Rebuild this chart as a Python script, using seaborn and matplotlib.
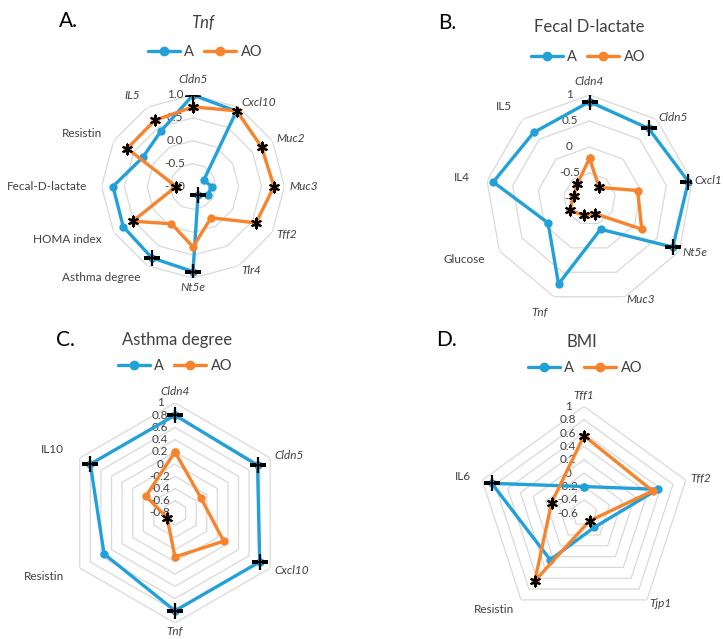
import numpy as np
import pandas as pd
import matplotlib
matplotlib.use("Agg")
import matplotlib.pyplot as plt
import matplotlib.transforms as mtransforms
from matplotlib.lines import Line2D
import seaborn as sns

sns.set_theme(style="white")
plt.rcParams["font.family"] = ["Lato", "DejaVu Sans"]

BLUE = "#22a0d8"
ORANGE = "#f7832d"
TEXT = "#404040"
GRID = "#d9d9d9"
W, H = 723, 639

# ---- Panel A: correlations with Tnf ----
a_cats = ["Cldn5", "Cxcl10", "Muc2", "Muc3", "Tff2", "Tlr4", "Nt5e",
          "Asthma degree", "HOMA index", "Fecal-D-lactate", "Resistin", "IL5"]
a_italic = [True, True, True, True, True, True, True, False, False, False, False, True]
a_A = [1.00, 0.90, -0.73, -0.59, -0.63, -0.78, 0.86, 0.80, 0.76, 0.75, 0.27, 0.40]
a_AO = [0.74, 0.91, 0.73, 0.77, 0.59, -0.21, 0.32, -0.06, 0.52, -0.63, 0.66, 0.67]
a_sig_A = ["+", "", "", "", "", "+", "+", "+", "", "", "", ""]
a_sig_AO = ["*", "*", "*", "*", "*", "", "", "", "*", "*", "*", "*"]
a_ticks = [-1.0, -0.5, 0.0, 0.5, 1.0]
a_tick_labels = ["-1.0", "-0.5", "0.0", "0.5", "1.0"]

# ---- Panel B: correlations with fecal D-lactate ----
b_cats = ["Cldn4", "Cldn5", "Cxcl1", "Nt5e", "Muc3", "Tnf", "Glucose", "IL4", "IL5"]
b_italic = [True, True, True, True, True, True, False, False, False]
b_A = [0.87, 0.77, 0.93, 0.85, -0.38, 0.74, -0.08, 0.88, 0.67]
b_AO = [-0.22, -0.71, -0.06, 0.16, -0.70, -0.67, -0.56, -0.69, -0.63]
b_sig_A = ["+", "+", "+", "+", "", "", "", "", ""]
b_sig_AO = ["", "*", "", "", "*", "*", "*", "*", "*"]
b_ticks = [-1.0, -0.5, 0.0, 0.5, 1.0]
b_tick_labels = ["-1", "-0.5", "0", "0.5", "1"]

# ---- Panel C: correlations with asthma degree ----
c_cats = ["Cldn4", "Cldn5", "Cxcl10", "Tnf", "Resistin", "IL10"]
c_italic = [True, True, True, True, False, False]
c_A = [0.80, 0.76, 0.80, 0.80, 0.54, 0.80]
c_AO = [0.20, -0.31, 0.12, -0.08, -0.65, -0.25]
c_sig_A = ["+", "+", "+", "+", "", "+"]
c_sig_AO = ["", "", "", "", "*", ""]
c_ticks = [-0.8, -0.6, -0.4, -0.2, 0.0, 0.2, 0.4, 0.6, 0.8, 1.0]
c_tick_labels = ["-0.8", "-0.6", "-0.4", "-0.2", "0", "0.2", "0.4", "0.6", "0.8", "1"]

# ---- Panel D: correlations with BMI ----
d_cats = ["Tff1", "Tff2", "Tjp1", "Resistin", "IL6"]
d_italic = [True, True, True, False, False]
d_A = [-0.20, 0.56, -0.34, 0.26, 0.85]
d_AO = [0.56, 0.48, -0.46, 0.65, -0.09]
d_sig_A = ["", "", "", "", "+"]
d_sig_AO = ["*", "", "*", "*", "*"]
d_ticks = [-0.6, -0.4, -0.2, 0.0, 0.2, 0.4, 0.6, 0.8, 1.0]
d_tick_labels = ["-0.6", "-0.4", "-0.2", "0", "0.2", "0.4", "0.6", "0.8", "1"]

fig = plt.figure(figsize=(W / 100, H / 100), dpi=100)


def off(ax, dx, dy):
    return mtransforms.offset_copy(ax.transData, fig=fig, x=dx, y=dy, units="dots")


def radar(cx, cy, R, cats, italic, vA, vAO, sigA, sigAO, ticks, tick_labels,
          tick_dx, gap_right=5, gap_left=14, gap_top=8, gap_bottom=4):
    ax = fig.add_axes([(cx - R) / W, (H - cy - R) / H, 2 * R / W, 2 * R / H],
                      projection="polar")
    ax.set_theta_zero_location("N")
    ax.set_theta_direction(-1)
    ax.patch.set_alpha(0)
    n = len(cats)
    theta = np.linspace(0, 2 * np.pi, n, endpoint=False)
    ring_t = np.append(theta, 2 * np.pi)

    # polygon gridlines
    for t in ticks[1:]:
        ax.plot(ring_t, np.full(n + 1, t), color=GRID, lw=0.9, zorder=1)

    rows = []
    for grp, vals in (("A", vA), ("AO", vAO)):
        for k, i in enumerate(list(range(n)) + [0]):
            rows.append({"group": grp, "theta": ring_t[k], "r": vals[i]})
    df = pd.DataFrame(rows)
    sns.lineplot(data=df, x="theta", y="r", hue="group",
                 palette={"A": BLUE, "AO": ORANGE}, sort=False, estimator=None,
                 marker="o", markersize=6, markeredgewidth=0, linewidth=2.4,
                 ax=ax, legend=False, zorder=3)

    # significance symbols
    for vals, sigs in ((vA, sigA), (vAO, sigAO)):
        for i, s in enumerate(sigs):
            if s == "+":
                ax.plot(theta[i], vals[i], marker="+", ms=11, mew=1.6,
                        color="black", ls="none", zorder=5)
            elif s == "*":
                ax.plot(theta[i], vals[i], marker=(6, 2, 0), ms=8, mew=1.4,
                        color="black", ls="none", zorder=5)

    ax.set_ylim(ticks[0], 1.0)
    ax.set_xticks([])
    ax.set_yticks([])
    ax.grid(False)
    ax.spines["polar"].set_visible(False)
    ax.set_xlabel("")
    ax.set_ylabel("")

    # radial value labels along the top spoke
    for t, lab in zip(ticks, tick_labels):
        ax.text(0, t, lab, transform=off(ax, tick_dx, 0), ha="center",
                va="center", fontsize=8.5, color=TEXT, zorder=2)

    # category labels
    for i, (c, it) in enumerate(zip(cats, italic)):
        s, co = np.sin(theta[i]), np.cos(theta[i])
        if s > 0.15:
            ha, g = "left", gap_right
        elif s < -0.15:
            ha, g = "right", gap_left
        else:
            ha, g = "center", (gap_top if co > 0 else gap_bottom)
        if abs(s) <= 0.15:
            va = "bottom" if co > 0 else "top"
        else:
            va = "center"
        ax.text(theta[i], 1.0, c, transform=off(ax, g * s, g * co), ha=ha, va=va,
                fontsize=8.5, color=TEXT, style="italic" if it else "normal")
    return ax


def header(letter, lx, ly, title, tx, ty, title_italic, legx, legy):
    fig.text(lx / W, 1 - ly / H, letter, fontsize=15, color="black",
             ha="center", va="center")
    fig.text(tx / W, 1 - ty / H, title, fontsize=12, color=TEXT, ha="center",
             va="center", style="italic" if title_italic else "normal")
    handles = [Line2D([0], [0], color=BLUE, lw=2.4, marker="o", ms=6),
               Line2D([0], [0], color=ORANGE, lw=2.4, marker="o", ms=6)]
    fig.legend(handles, ["A", "AO"], ncol=2, frameon=False, loc="center",
               bbox_to_anchor=(legx / W, 1 - legy / H), fontsize=10.5,
               handlelength=2.2, handletextpad=0.3, columnspacing=0.7,
               labelcolor=TEXT)


radar(193, 186.5, 91.5, a_cats, a_italic, a_A, a_AO, a_sig_A, a_sig_AO,
      a_ticks, a_tick_labels, tick_dx=-18, gap_top=10)
radar(589.5, 199, 104, b_cats, b_italic, b_A, b_AO, b_sig_A, b_sig_AO,
      b_ticks, b_tick_labels, tick_dx=-20, gap_left=17, gap_right=3)
radar(175, 513, 110, c_cats, c_italic, c_A, c_AO, c_sig_A, c_sig_AO,
      c_ticks, c_tick_labels, tick_dx=-15, gap_left=18, gap_top=6, gap_bottom=3)
radar(584, 513.3, 107, d_cats, d_italic, d_A, d_AO, d_sig_A, d_sig_AO,
      d_ticks, d_tick_labels, tick_dx=-16, gap_left=12, gap_top=5)

header("A.", 68, 21, "Tnf", 203, 23, True, 205, 52)
header("B.", 447, 23, "Fecal D-lactate", 589, 27, False, 588, 57)
header("C.", 65, 340, "Asthma degree", 177, 340, False, 175, 366)
header("D.", 447, 340, "BMI", 582, 342, False, 585, 368)

fig.savefig("out.png", dpi=100, facecolor="white")
